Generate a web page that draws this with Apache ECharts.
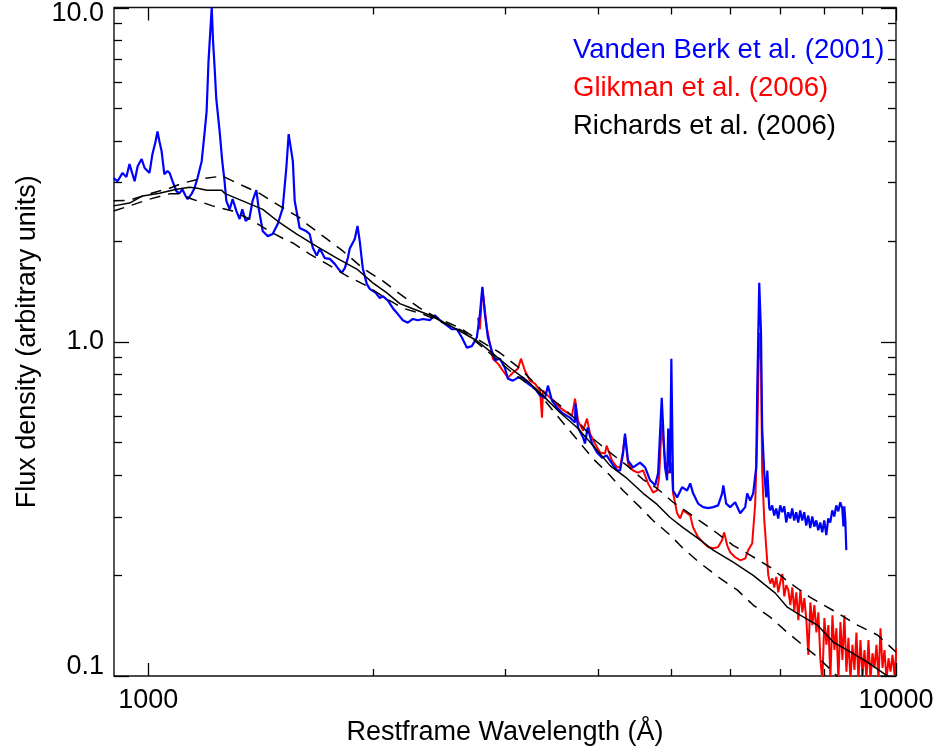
<!DOCTYPE html>
<html>
<head>
<meta charset="utf-8">
<script src="https://cdn.jsdelivr.net/npm/echarts@6/dist/echarts.min.js"></script>
<style>
  html, body { margin: 0; padding: 0; background: #fff; }
  #chart { width: 938px; height: 751px; }
</style>
</head>
<body>
<div id="chart"></div>
<script>
// Composite quasar spectra: [restframe wavelength (Å), flux density]
const vandenBerk = [
  [899,3.09],[910,3.02],[924,3.20],[935,3.11],[944,3.40],[959,3.02],[968,3.35],[980,3.52],[989,3.31],
  [1004,3.20],[1013,3.64],[1023,3.98],[1029,4.26],[1035,3.98],[1042,3.72],[1051,3.17],[1061,3.24],
  [1068,3.20],[1078,3.02],[1091,2.82],[1101,2.78],[1111,2.86],[1122,2.73],[1129,2.67],[1143,2.77],
  [1153,2.88],[1164,3.09],[1179,3.47],[1190,4.26],[1197,4.89],[1204,6.90],[1216,10.0],[1221,7.92],
  [1227,6.58],[1233,5.35],[1246,4.26],[1256,3.47],[1265,3.02],[1272,2.64],[1285,2.49],[1297,2.67],
  [1312,2.46],[1325,2.33],[1336,2.49],[1350,2.30],[1366,2.35],[1379,2.64],[1395,2.84],[1405,2.51],
  [1423,2.14],[1445,2.07],[1467,2.10],[1490,2.25],[1513,2.51],[1530,3.31],[1541,4.18],[1549,4.22],
  [1561,3.47],[1570,2.64],[1594,2.19],[1628,2.14],[1644,2.10],[1660,1.91],[1680,1.81],[1696,1.90],
  [1722,1.78],[1749,1.77],[1776,1.71],[1793,1.66],[1815,1.61],[1832,1.66],[1849,1.78],[1860,1.90],
  [1889,2.03],[1905,2.22],[1918,2.00],[1936,1.66],[1960,1.49],[1978,1.44],[2015,1.40],[2040,1.35],
  [2059,1.37],[2091,1.33],[2124,1.26],[2157,1.21],[2190,1.16],[2224,1.14],[2259,1.17],[2294,1.16],
  [2330,1.17],[2380,1.16],[2417,1.20],[2455,1.16],[2508,1.12],[2547,1.09],[2587,1.09],[2627,1.03],
  [2668,0.96],[2709,0.97],[2751,1.03],[2777,1.21],[2798,1.46],[2820,1.21],[2846,1.03],[2881,0.94],
  [2908,0.88],[2953,0.89],[2999,0.836],[3027,0.775],[3074,0.765],[3122,0.781],[3170,0.781],[3220,0.749],
  [3290,0.724],[3342,0.690],[3393,0.680],[3424,0.739],[3467,0.667],[3521,0.635],[3586,0.610],[3664,0.593],
  [3722,0.573],[3727,0.653],[3756,0.554],[3815,0.517],[3838,0.496],[3869,0.554],[3922,0.496],[3983,0.466],
  [4045,0.450],[4102,0.457],[4171,0.432],[4236,0.412],[4276,0.412],[4315,0.463],[4341,0.531],[4382,0.441],
  [4450,0.421],[4547,0.435],[4619,0.421],[4690,0.385],[4763,0.372],[4807,0.404],[4861,0.680],[4911,0.421],
  [4942,0.385],[4959,0.550],[4987,0.404],[5007,0.890],[5034,0.359],[5096,0.342],[5175,0.367],[5256,0.359],
  [5306,0.377],[5354,0.352],[5437,0.328],[5522,0.320],[5608,0.318],[5695,0.320],[5783,0.324],[5855,0.352],
  [5876,0.372],[5928,0.328],[6001,0.320],[6094,0.331],[6189,0.307],[6285,0.320],[6324,0.352],[6383,0.335],
  [6442,0.352],[6502,0.421],[6522,0.700],[6563,1.50],[6599,1.064],[6622,0.554],[6666,0.404],[6707,0.342],
  [6728,0.412],[6769,0.318],[6788,0.313],[6830,0.324],[6873,0.302],[6915,0.317],[6958,0.296],[7001,0.324],
  [7044,0.309],[7088,0.322],[7132,0.288],[7176,0.309],[7220,0.296],[7265,0.317],[7310,0.292],[7355,0.309],
  [7400,0.288],[7446,0.313],[7492,0.292],[7538,0.309],[7585,0.282],[7632,0.302],[7679,0.277],[7727,0.300],
  [7775,0.280],[7823,0.292],[7871,0.273],[7920,0.288],[7969,0.269],[8018,0.292],[8068,0.264],[8118,0.296],
  [8168,0.288],[8218,0.313],[8269,0.300],[8320,0.324],[8372,0.311],[8424,0.331],[8476,0.317],[8506,0.280],
  [8528,0.322],[8555,0.292],[8581,0.238]
];

const glikman = [
  [2760,1.18],[2777,1.09],[2798,1.45],[2837,1.10],[2864,0.986],[2890,0.89],[2935,0.860],[2981,0.819],
  [3027,0.781],[3074,0.808],[3122,0.831],[3151,0.89],[3190,0.819],[3240,0.765],[3290,0.749],[3342,0.714],
  [3362,0.593],[3372,0.714],[3424,0.690],[3478,0.667],[3553,0.635],[3631,0.614],[3687,0.601],[3722,0.676],
  [3756,0.581],[3815,0.542],[3862,0.589],[3898,0.531],[3958,0.496],[4020,0.466],[4082,0.463],[4102,0.489],
  [4171,0.441],[4236,0.421],[4276,0.421],[4315,0.473],[4341,0.524],[4382,0.432],[4450,0.412],[4519,0.406],
  [4590,0.412],[4661,0.377],[4733,0.354],[4792,0.359],[4822,0.393],[4861,0.569],[4911,0.441],[4957,0.404],
  [4987,0.412],[5007,0.435],[5034,0.352],[5096,0.307],[5145,0.296],[5191,0.313],[5256,0.307],[5306,0.302],
  [5354,0.278],[5437,0.260],[5522,0.251],[5608,0.243],[5695,0.241],[5783,0.243],[5855,0.255],[5891,0.269],
  [5946,0.246],[6001,0.2345],[6094,0.2266],[6189,0.222],[6285,0.2245],[6344,0.238],[6422,0.249],[6482,0.328],
  [6522,0.517],[6563,1.064],[6599,0.877],[6622,0.412],[6666,0.292],[6686,0.267],[6707,0.241],[6749,0.200],
  [6790,0.189],[6832,0.196],[6874,0.184],[6917,0.198],[6960,0.178],[7003,0.191],[7047,0.202],[7090,0.173],
  [7134,0.187],[7178,0.181],[7223,0.163],[7267,0.184],[7312,0.157],[7357,0.178],[7403,0.147],[7449,0.181],
  [7495,0.155],[7541,0.171],[7588,0.147],[7635,0.1156],[7682,0.166],[7730,0.142],[7778,0.163],[7826,0.135],
  [7874,0.155],[7923,0.1116],[7972,0.0973],[8021,0.149],[8071,0.124],[8121,0.142],[8171,0.098],[8222,0.152],
  [8272,0.1196],[8324,0.139],[8375,0.0973],[8427,0.145],[8479,0.1116],[8531,0.152],[8584,0.103],[8637,0.130],
  [8691,0.0973],[8745,0.124],[8799,0.1042],[8853,0.135],[8908,0.0973],[8963,0.128],[9019,0.1007],[9075,0.1196],
  [9131,0.098],[9187,0.128],[9244,0.0973],[9301,0.117],[9359,0.1057],[9417,0.124],[9475,0.0973],[9534,0.139],
  [9593,0.1057],[9652,0.1196],[9712,0.0973],[9772,0.113],[9832,0.103],[9893,0.1156],[9954,0.1007],[10016,0.121]
];

const richards = [
  [899,2.55],[944,2.60],[983,2.73],[1035,2.78],[1091,2.86],[1136,2.90],[1164,2.88],[1197,2.84],[1254,2.84],
  [1265,2.78],[1337,2.64],[1423,2.49],[1499,2.27],[1580,2.10],[1680,1.93],[1787,1.78],[1901,1.65],[1997,1.50],
  [2085,1.40],[2170,1.30],[2259,1.255],[2380,1.20],[2508,1.13],[2635,1.064],[2751,1.007],[2890,0.921],
  [3046,0.836],[3210,0.765],[3372,0.690],[3553,0.614],[3745,0.554],[3934,0.489],[4146,0.426],[4369,0.390],
  [4590,0.352],[4792,0.326],[4988,0.298],[5191,0.278],[5437,0.258],[5695,0.238],[6057,0.219],[6442,0.200],
  [6896,0.177],[7156,0.1607],[7446,0.152],[7850,0.142],[8242,0.1263],[8687,0.118],[9158,0.110],[9616,0.102],
  [10000,0.0958]
];

const richardsUpper = [
  [899,2.64],[944,2.65],[1004,2.77],[1068,2.88],[1111,2.98],[1171,3.07],[1257,3.13],[1325,2.96],[1409,2.78],
  [1499,2.55],[1594,2.35],[1630,2.25],[1733,2.03],[1820,1.87],[1936,1.66],[2059,1.52],[2170,1.39],[2308,1.26],
  [2432,1.18],[2611,1.10],[2751,1.02],[2953,0.927],[3142,0.831],[3393,0.700],[3586,0.635],[3745,0.581],
  [3934,0.513],[4146,0.466],[4369,0.426],[4590,0.387],[4792,0.364],[5034,0.331],[5387,0.298],[5695,0.273],
  [6057,0.246],[6383,0.230],[6788,0.2115],[7220,0.1895],[7680,0.172],[8242,0.157],[8881,0.142],[9445,0.1326],
  [10000,0.118]
];

const richardsLower = [
  [899,2.46],[944,2.55],[1004,2.67],[1068,2.77],[1101,2.77],[1146,2.67],[1219,2.55],[1297,2.46],[1366,2.33],
  [1453,2.14],[1513,2.04],[1561,1.975],[1644,1.83],[1733,1.71],[1843,1.574],[1960,1.47],[2085,1.344],
  [2190,1.26],[2330,1.21],[2477,1.14],[2635,1.078],[2837,0.94],[3046,0.819],[3310,0.714],[3478,0.622],
  [3631,0.554],[3934,0.447],[4146,0.398],[4315,0.359],[4547,0.320],[4733,0.292],[4988,0.264],[5191,0.241],
  [5472,0.2175],[5819,0.196],[6132,0.181],[6442,0.163],[6788,0.150],[7156,0.135],[7446,0.1255],[7850,0.114],
  [8242,0.1028],[8558,0.094]
];

// Axis ticks and their labels
const xMajorTicks = [1000, 10000];
const xTickLabels = ['1000', '10000'];
const xMinorTicks = [2000, 3000, 4000, 5000, 6000, 7000, 8000, 9000];
const yMajorTicks = [0.1, 1, 10];
const yTickLabels = ['0.1', '1.0', '10.0'];
const yMinorTicks = [0.2, 0.3, 0.4, 0.5, 0.6, 0.7, 0.8, 0.9, 2, 3, 4, 5, 6, 7, 8, 9];

const legendEntries = [
  { name: 'Vanden Berk et al. (2001)', color: '#0000ff' },
  { name: 'Glikman et al. (2006)', color: '#ff0000' },
  { name: 'Richards et al. (2006)', color: '#000000' }
];

const FONT = '"Liberation Sans", Arial, Helvetica, sans-serif';
const FS = 27;
const X_MIN = 900, X_MAX = 10000, Y_MIN = 0.1, Y_MAX = 10;

function sameDecade(a, b) {
  return Math.abs(Math.log10(a) - Math.log10(b)) < 1e-6;
}

// tick rows: [x, y, isYAxis, isMajor]
const tickRows = [];
xMajorTicks.forEach(v => tickRows.push([v, 1, 0, 1]));
xMinorTicks.forEach(v => tickRows.push([v, 1, 0, 0]));
yMajorTicks.forEach(v => tickRows.push([1000, v, 1, 1]));
yMinorTicks.forEach(v => tickRows.push([1000, v, 1, 0]));

function renderTick(params, api) {
  const cs = params.coordSys;
  const isY = api.value(2), major = api.value(3);
  const st = { stroke: '#000', lineWidth: 1.3 };
  if (!isY) {
    const px = Math.round(api.coord([api.value(0), 1])[0]) + 0.5;
    const len = major ? 13 : 7;
    const b = cs.y + cs.height;
    return { type: 'group', children: [
      { type: 'line', shape: { x1: px, y1: b, x2: px, y2: b - len }, style: st },
      { type: 'line', shape: { x1: px, y1: cs.y, x2: px, y2: cs.y + len }, style: st }
    ]};
  }
  const py = Math.round(api.coord([1000, api.value(1)])[1]) + 0.5;
  const len = major ? 15 : 8;
  const r = cs.x + cs.width;
  return { type: 'group', children: [
    { type: 'line', shape: { x1: cs.x, y1: py, x2: cs.x + len, y2: py }, style: st },
    { type: 'line', shape: { x1: r, y1: py, x2: r - len, y2: py }, style: st }
  ]};
}

const chart = echarts.init(document.getElementById('chart'), null, { renderer: 'canvas' });

chart.setOption({
  backgroundColor: '#ffffff',
  animation: false,
  grid: {
    left: 114, right: 42, top: 6, bottom: 75,
    containLabel: false,
    show: true, borderColor: '#111', borderWidth: 1.4, backgroundColor: 'transparent'
  },
  xAxis: {
    type: 'log', logBase: 10, min: X_MIN, max: X_MAX,
    name: 'Restframe Wavelength (Å)', nameLocation: 'middle', nameGap: 37,
    nameTextStyle: { fontFamily: FONT, fontSize: FS, color: '#000' },
    axisLine: { show: false }, axisTick: { show: false }, splitLine: { show: false }, minorTick: { show: false },
    axisLabel: {
      margin: 11, fontFamily: FONT, fontSize: FS, color: '#000',
      showMinLabel: true, showMaxLabel: true, hideOverlap: false,
      formatter: v => {
        const i = xMajorTicks.findIndex(t => sameDecade(t, v));
        return i < 0 ? '' : xTickLabels[i];
      }
    }
  },
  yAxis: {
    type: 'log', logBase: 10, min: Y_MIN, max: Y_MAX,
    name: 'Flux density (arbitrary units)', nameLocation: 'middle', nameGap: 72,
    nameTextStyle: { fontFamily: FONT, fontSize: FS, color: '#000' },
    axisLine: { show: false }, axisTick: { show: false }, splitLine: { show: false }, minorTick: { show: false },
    axisLabel: {
      margin: 10, fontFamily: FONT, fontSize: FS, color: '#000',
      showMinLabel: true, showMaxLabel: true, hideOverlap: false,
      formatter: v => {
        const i = yMajorTicks.findIndex(t => sameDecade(t, v));
        if (i < 0) return '';
        const key = i === 0 ? 'low' : (i === yMajorTicks.length - 1 ? 'high' : 'mid');
        return '{' + key + '|' + yTickLabels[i] + '}';
      },
      rich: {
        low: { fontFamily: FONT, fontSize: FS, color: '#000', padding: [0, 0, 18, 0] },
        mid: { fontFamily: FONT, fontSize: FS, color: '#000' },
        high: { fontFamily: FONT, fontSize: FS, color: '#000', padding: [12, 0, 0, 0] }
      }
    }
  },
  graphic: legendEntries.map((e, i) => ({
    type: 'text', x: 573, y: [50, 88, 126][i],
    style: { text: e.name, fill: e.color, font: '27.5px ' + FONT, verticalAlign: 'middle', align: 'left' }
  })),
  series: [
    { name: 'Glikman', type: 'line', data: glikman, showSymbol: false, symbol: 'none', clip: true,
      lineStyle: { color: '#ff0000', width: 2 }, z: 2 },
    { name: 'Vanden Berk', type: 'line', data: vandenBerk, showSymbol: false, symbol: 'none', clip: true,
      lineStyle: { color: '#0000ff', width: 2.2 }, z: 3 },
    { name: 'Richards upper', type: 'line', data: richardsUpper, showSymbol: false, symbol: 'none', clip: true,
      lineStyle: { color: '#000', width: 1.5, type: [11, 8] }, z: 4 },
    { name: 'Richards lower', type: 'line', data: richardsLower, showSymbol: false, symbol: 'none', clip: true,
      lineStyle: { color: '#000', width: 1.5, type: [11, 8] }, z: 4 },
    { name: 'Richards', type: 'line', data: richards, showSymbol: false, symbol: 'none', clip: true,
      lineStyle: { color: '#000', width: 1.5 }, z: 5 },
    { name: 'ticks', type: 'custom', data: tickRows, renderItem: renderTick, encode: { x: 0, y: 1 },
      silent: true, z: 6 }
  ]
});
</script>
</body>
</html>
